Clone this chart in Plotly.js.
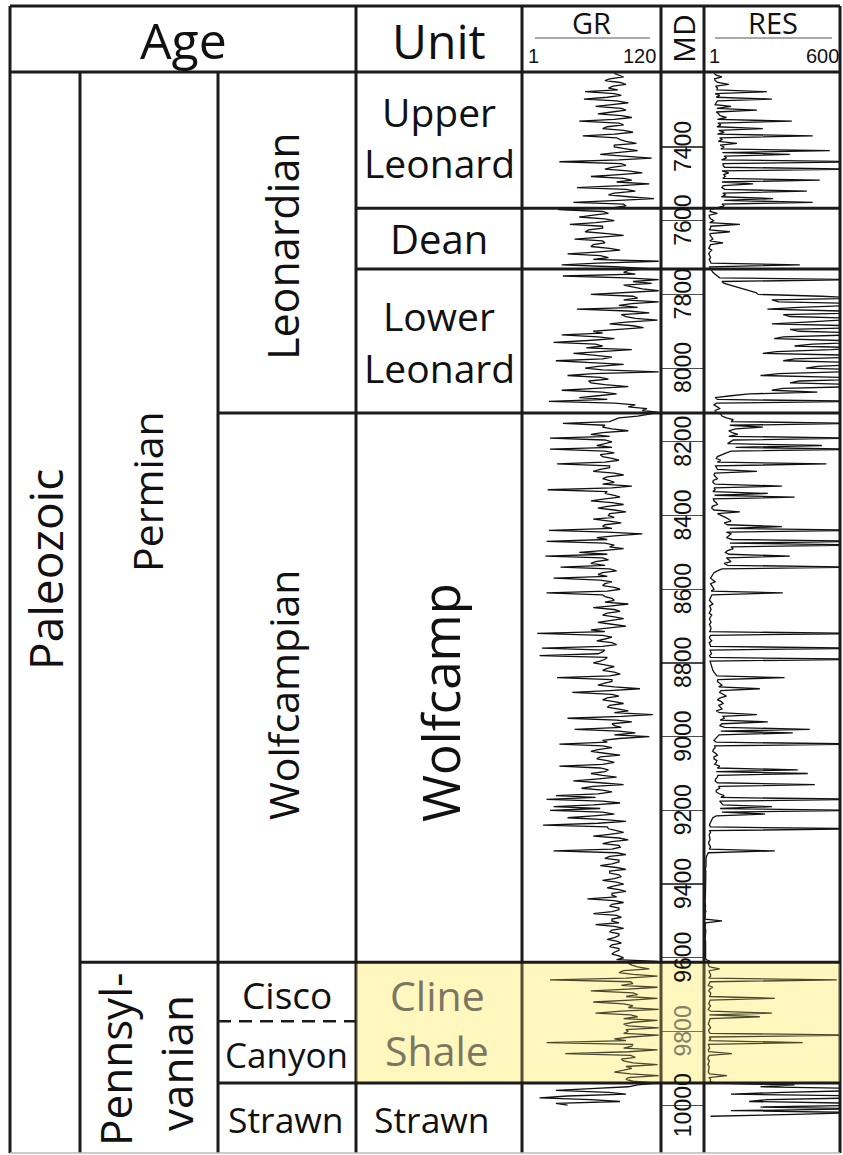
<!DOCTYPE html>
<html><head><meta charset="utf-8">
<script src="https://cdn.plot.ly/plotly-3.0.1.min.js"></script>
<style>html,body{margin:0;padding:0;background:#fff}</style>
</head><body>
<div id="chart" style="width:843px;height:1155px"></div>
<script>
// ---------------- DATA ----------------
const depthStart = 7200, depthStep = 5;   // log sampling (ft MD)
const grValues = [
 80,84, 88,76, 72,85, 90,79, 75,83, 55,80, 86,74, 54,82, 92,78, 64,86,
 90,78, 66,86, 95,80, 50,84, 88,74, 70,88, 96,80, 53,82, 85,90, 99,80,
 80,90, 100,82, 68,88, 112,84, 33,86, 90,78, 72,92, 104,84, 60,88, 95,82,
 110,86, 48,90, 98,80, 75,92, 114,84, 45,88, 90,78, 32,70, 75,62, 50,72,
 80,64, 42,70, 70,58, 55,74, 88,66, 46,70, 72,62, 60,76, 85,64, 40,68,
 75,62, 118,66, 35,80, 110,92, 88,98, 36,90, 118,96, 112,88, 95,104, 118,92,
 60,96, 100,88, 118,95, 84,100, 48,92, 110,86, 90,98, 117,90, 76,96, 105,84,
 62,70, 35,66, 80,58, 28,64, 70,56, 95,68, 45,62, 78,70, 30,60, 88,66,
 55,70, 118,62, 40,68, 75,58, 60,72, 92,64, 35,70, 82,66, 50,74, 24,80,
 98,92, 108,104, 118,110, 100,84, 80,76, 36,72, 70,78, 92,70, 60,76, 25,72,
 78,70, 65,78, 25,72, 80,68, 70,78, 84,72, 31,76, 76,68, 62,80, 88,74,
 70,76, 80,70, 95,78, 23,74, 72,80, 85,72, 60,78, 88,74, 66,80, 90,76,
 75,80, 62,76, 86,72, 70,78, 24,74, 104,80, 65,74, 22,72, 80,76, 88,70,
 50,74, 21,70, 75,64, 60,72, 34,76, 82,70, 66,74, 28,68, 78,72, 70,80,
 85,74, 22,70, 72,78, 80,72, 92,78, 62,80, 85,74, 70,80, 88,76, 66,78,
 90,76, 60,72, 14,70, 78,72, 65,78, 82,70, 18,72, 70,66, 16,74, 72,68,
 62,72, 80,74, 70,80, 85,76, 31,78, 78,72, 66,80, 102,76, 44,78, 84,74,
 70,80, 88,76, 74,84, 92,80, 113,86, 40,82, 95,78, 80,86, 46,84, 98,80,
 110,84, 70,74, 33,70, 78,66, 60,72, 85,68, 65,74, 80,70, 33,68, 75,72,
 60,70, 82,64, 45,68, 88,62, 52,70, 78,66, 30,64, 22,70, 85,62, 28,68,
 25,70, 80,62, 40,72, 90,66, 19,74, 75,82, 88,76, 62,84, 92,78, 70,84,
 85,78, 28,82, 90,76, 72,84, 84,78, 68,82, 90,76, 76,84, 86,80, 70,82,
 88,80, 74,84, 90,78, 78,82, 57,80, 88,78, 76,84, 84,78, 62,82, 86,78,
 78,84, 64,80, 88,78, 76,84, 84,80, 74,82, 86,78, 76,84, 84,80, 78,84,
 88,82, 117,92, 95,100, 110,88, 84,96, 117,90, 25,94, 96,86, 117,92, 60,96,
 100,90, 117,94, 62,88, 96,92, 118,86, 64,94, 100,88, 117,96, 88,92, 118,90,
 92,88, 118,94, 80,90, 22,96, 95,88, 117,92, 38,94, 98,86, 88,96, 117,90,
 95,88, 80,94, 118,92, 90,96, 117,100, 92,60, 30,75, 90,40, 16,60, 85,30,
 40
];
const resValues = [
 45,55, 80,48, 50,62, 110,52, 60,58, 278,50, 70,55, 300,60, 55,50, 120,58,
 234,55, 65,72, 100,60, 388,62, 75,58, 260,66, 90,60, 480,70, 80,64, 146,72,
 90,75, 555,82, 379,90, 100,78, 700,85, 85,92, 700,80, 110,88, 95,84, 511,80,
 217,86, 80,92, 454,84, 95,78, 305,90, 480,80, 90,60, 30,28, 60,24, 25,30,
 45,26, 159,30, 30,24, 115,28, 28,35, 40,26, 85,30, 25,22, 35,26, 22,28,
 30,24, 28,32, 423,26, 30,34, 40,50, 60,70, 700,80, 90,115, 140,170, 200,230,
 240,520, 700,300, 330,700, 650,420, 280,600, 700,350, 380,700, 600,450, 300,650, 700,380,
 420,700, 650,350, 310,600, 700,480, 400,700, 560,320, 260,650, 700,400, 350,700, 700,500,
 450,700, 620,330, 250,600, 700,420, 380,700, 680,350, 300,500, 200,120, 50,60, 700,55,
 45,60, 70,50, 55,75, 80,100, 130,120, 700,115, 260,140, 110,125, 150,110, 700,130,
 120,105, 520,140, 700,120, 100,80, 60,55, 75,60, 540,52, 55,60, 234,48, 45,55,
 60,42, 40,50, 344,45, 50,40, 282,48, 400,42, 45,55, 60,38, 35,45, 159,60,
 80,95, 110,120, 90,105, 344,115, 700,100, 120,110, 100,125, 700,115, 700,120, 130,105,
 95,110, 379,100, 110,120, 90,105, 700,80, 60,45, 40,35, 30,40, 50,30, 35,38,
 45,32, 348,36, 30,28, 25,34, 40,26, 30,32, 28,24, 35,30, 25,28, 32,25,
 28,32, 30,26, 700,30, 25,28, 35,24, 28,30, 700,28, 30,34, 25,30, 700,28,
 30,32, 35,38, 40,45, 50,58, 356,62, 60,70, 80,66, 247,75, 70,85, 100,72,
 60,78, 85,66, 75,80, 55,70, 234,85, 90,72, 282,80, 70,92, 467,75, 392,68,
 60,50, 45,55, 700,48, 50,42, 40,52, 60,45, 45,58, 55,48, 70,60, 414,55,
 458,62, 60,52, 50,60, 489,65, 70,55, 55,68, 90,75, 700,70, 80,85, 300,72,
 700,80, 270,55, 40,35, 30,28, 25,30, 700,26, 30,24, 25,28, 28,22, 22,26,
 30,24, 313,20, 15,12, 10,9, 8,10, 10,7, 7,9, 9,6, 6,8, 8,7,
 7,9, 9,6, 6,8, 8,7, 7,5, 6,8, 8,6, 7,9, 6,7, 8,6,
 80,8, 7,6, 6,9, 8,7, 7,6, 6,8, 8,7, 7,6, 6,8, 7,9,
 8,10, 30,22, 20,26, 70,24, 25,30, 30,22, 586,28, 25,20, 40,26, 22,30,
 30,24, 313,28, 25,22, 30,26, 20,30, 300,24, 247,28, 25,20, 20,26, 30,22,
 22,28, 700,24, 30,22, 436,20, 22,26, 20,22, 124,24, 20,18, 25,22, 18,24,
 22,20, 20,26, 102,22, 30,28, 45,400, 250,700, 700,350, 120,700, 700,280, 200,700,
 700,250, 700,120, 700,400, 30
];
const mdTicks = [7400,7600,7800,8000,8200,8400,8600,8800,9000,9200,9400,9600,9800,10000];
const grScale = [1, 120];
const resScale = [1, 600];
// formation tops (ft MD)
const unitNames = ['Upper Leonard','Dean','Lower Leonard','Wolfcamp','Cline Shale','Strawn'];
const unitTops  = [7196.5, 7566, 7731, 8122, 9612, 9940];
const seriesNames = ['Leonardian','Wolfcampian','Cisco','Canyon','Strawn'];
const seriesTops  = [7196.5, 8122, 9612, 9772, 9940];
const systemNames = ['Permian','Pennsylvanian'];
const systemTops  = [7196.5, 9612];
const depthTop = 7196.5, depthBottom = 10127;

// ---------------- LAYOUT HELPERS ----------------
const W = 843, H = 1155;
const px = x => x / W;
const py = y => 1 - y / H;
const INK = '#1b1b1b';
const FONT = 'Open Sans, Noto Sans, sans-serif';
const NUMFONT = 'Liberation Sans, Arial, sans-serif';

const grDepth = grValues.map((_, i) => depthStart + i * depthStep);
const resDepth = resValues.map((_, i) => depthStart + i * depthStep);

const yDomain = [py(1152), py(72)];
const colX = {left: 10, sys: 80, ser: 218, unit: 356, gr: 522, md: 661, res: 704, right: 840};

const traces = [
  {x: grValues, y: grDepth, xaxis: 'x', yaxis: 'y', type: 'scatter', mode: 'lines',
   line: {color: '#111', width: 1.3}, hoverinfo: 'skip'},
  {x: [], y: [], xaxis: 'x2', yaxis: 'y2', type: 'scatter', mode: 'lines'},
  {x: resValues, y: resDepth, xaxis: 'x3', yaxis: 'y3', type: 'scatter', mode: 'lines',
   line: {color: '#111', width: 1.3}, hoverinfo: 'skip'}
];

function vline(x, y0, y1) {
  return {type: 'line', xref: 'paper', yref: 'paper', x0: px(x), x1: px(x), y0: py(y0), y1: py(y1),
          line: {color: INK, width: 3}, layer: 'above'};
}
function hlinePx(y, x0, x1, color, width) {
  return {type: 'line', xref: 'paper', yref: 'paper', x0: px(x0), x1: px(x1), y0: py(y), y1: py(y),
          line: {color: color || INK, width: width || 3}, layer: 'above'};
}
function hlineDepth(d, x0, x1, dash) {
  return {type: 'line', xref: 'paper', yref: 'y', x0: px(x0), x1: px(x1), y0: d, y1: d,
          line: {color: INK, width: dash ? 2.5 : 3, dash: dash || 'solid'}, layer: 'above'};
}

const clineTop = unitTops[unitNames.indexOf('Cline Shale')];
const clineBase = unitTops[unitNames.indexOf('Strawn')];
const shapes = [];
// Cline Shale highlight: pale base under the logs
shapes.push({type: 'rect', xref: 'paper', yref: 'y', x0: px(colX.unit), x1: px(colX.right),
  y0: clineTop, y1: clineBase, fillcolor: 'rgb(255,250,207)', line: {width: 0}, layer: 'below'});
// vertical dividers
shapes.push(vline(colX.left, 6, 1153));
shapes.push(vline(colX.sys, 72, 1153));
shapes.push(vline(colX.ser, 72, 1153));
shapes.push(vline(colX.unit, 6, 1153));
shapes.push(vline(colX.gr, 6, 1153));
shapes.push(vline(colX.md, 6, 1153));
shapes.push(vline(colX.res, 6, 1153));
shapes.push(vline(colX.right, 6, 1153));
// Cline Shale highlight: translucent tint above
shapes.push({type: 'rect', xref: 'paper', yref: 'y', x0: px(colX.unit), x1: px(colX.right),
  y0: clineTop, y1: clineBase, fillcolor: 'rgb(255,238,140)', opacity: 0.25, line: {width: 0}, layer: 'above'});
// horizontal lines
shapes.push(hlinePx(6, colX.left, colX.right));
shapes.push(hlinePx(72, colX.left, colX.right));
shapes.push(hlinePx(1153, colX.left, colX.right, '#bdbdbd', 1.5));
unitTops.forEach((d, i) => { if (i > 0) shapes.push(hlineDepth(d, colX.unit, colX.right)); });
seriesTops.forEach((d, i) => {
  if (i === 0) return;
  if (seriesNames[i] === 'Canyon') shapes.push(hlineDepth(d, colX.ser, colX.unit, '13px,8px'));
  else shapes.push(hlineDepth(d, colX.ser, colX.unit));
});
systemTops.forEach((d, i) => { if (i > 0) shapes.push(hlineDepth(d, colX.sys, colX.ser)); });
// header scale underlines
shapes.push(hlinePx(38, 535, 650, '#555', 1));
shapes.push(hlinePx(38, 715, 832, '#555', 1));

function lab(text, x, y, size, o) {
  o = o || {};
  return {text: text, xref: 'paper', yref: o.yref || 'paper', x: px(x), y: o.yref ? y : py(y),
    xanchor: o.xanchor || 'center', yanchor: 'middle', showarrow: false, textangle: o.angle || 0,
    font: {family: o.family || FONT, size: size, color: o.color || '#111'}};
}

const annotations = [
  lab('Age', 183, 40, 50),
  lab('Unit', 439, 40, 48),
  lab('GR', 591, 22, 29),
  lab('RES', 773, 22, 29),
  lab('1', 526, 56, 20, {xanchor: 'left', family: NUMFONT}),
  lab('120', 658, 56, 20, {xanchor: 'right', family: NUMFONT}),
  lab('1', 707, 56, 20, {xanchor: 'left', family: NUMFONT}),
  lab('600', 841, 56, 20, {xanchor: 'right', family: NUMFONT}),
  lab('MD', 683, 39, 30, {angle: -90}),
  // age columns
  lab('Paleozoic', 45, 570, 46, {angle: -90}),
  lab('Permian', 147, 492, 41, {angle: -90}),
  lab('Pennsyl-', 115, 1060, 44, {angle: -90}),
  lab('vanian', 176, 1063, 44, {angle: -90}),
  lab('Leonardian', 283, 246, 43, {angle: -90}),
  lab('Wolfcampian', 283, 695, 41, {angle: -90}),
  lab('Cisco', 287, 994, 37),
  lab('Canyon', 286, 1054, 35),
  lab('Strawn', 286, 1119, 35.5),
  // units
  lab('Upper', 439, 112, 39),
  lab('Leonard', 439, 163, 39),
  lab('Dean', 439, 238, 40),
  lab('Lower', 439, 315, 39),
  lab('Leonard', 439, 368, 39),
  lab('Wolfcamp', 440, 703, 51, {angle: -90}),
  lab('Cline', 437, 995, 41, {color: '#7a7662'}),
  lab('Shale', 437, 1050, 41, {color: '#7a7662'}),
  lab('Strawn', 432, 1119, 35.5)
];
mdTicks.forEach(t => {
  const inCline = t > clineTop && t < clineBase;
  annotations.push(lab(String(t), 683, t, 23,
    {yref: 'y2', angle: -90, family: NUMFONT, color: inCline ? '#85826c' : '#111'}));
});

const hidden = {visible: false, fixedrange: true};
const layout = {
  width: W, height: H, margin: {l: 0, r: 0, t: 0, b: 0, pad: 0},
  paper_bgcolor: '#fff', plot_bgcolor: 'rgba(0,0,0,0)', showlegend: false, hovermode: false,
  xaxis:  Object.assign({}, hidden, {domain: [px(colX.gr), px(colX.md)], range: grScale, anchor: 'y'}),
  yaxis:  Object.assign({}, hidden, {domain: yDomain, range: [depthBottom, depthTop], anchor: 'x'}),
  xaxis2: Object.assign({}, hidden, {domain: [px(colX.md), px(colX.res)], range: [0, 1], anchor: 'y2'}),
  yaxis2: {domain: yDomain, range: [depthBottom, depthTop], anchor: 'x2', visible: true,
           showgrid: true, gridcolor: '#4a4a4a', gridwidth: 1.2, tickvals: mdTicks,
           showticklabels: false, ticks: '', zeroline: false, showline: false, fixedrange: true},
  xaxis3: Object.assign({}, hidden, {domain: [px(colX.res), px(colX.right)], range: resScale, anchor: 'y3'}),
  yaxis3: Object.assign({}, hidden, {domain: yDomain, range: [depthBottom, depthTop], anchor: 'x3'}),
  shapes: shapes,
  annotations: annotations
};
Plotly.newPlot('chart', traces, layout, {staticPlot: true, displayModeBar: false});
</script>
</body></html>
